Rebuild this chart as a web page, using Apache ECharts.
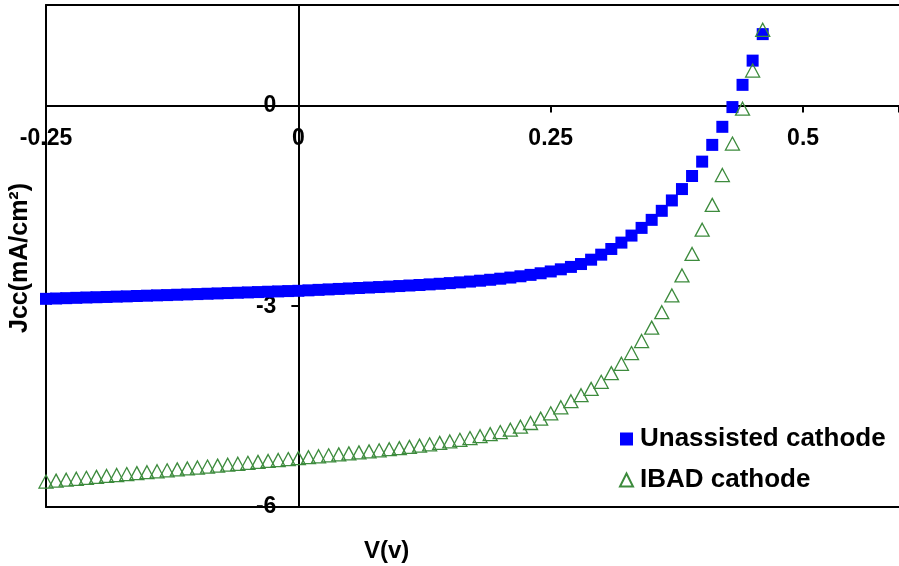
<!DOCTYPE html>
<html>
<head>
<meta charset="utf-8">
<script src="https://cdn.jsdelivr.net/npm/echarts@6/dist/echarts.min.js"></script>
<style>
  html, body { margin: 0; padding: 0; background: #fff; }
  #chart { width: 899px; height: 566px; }
</style>
</head>
<body>
<div id="chart"></div>
<script>
// voltage steps (V), one point every 0.01 V
const voltage = [
  -0.25, -0.24, -0.23, -0.22, -0.21, -0.20, -0.19, -0.18, -0.17, -0.16,
  -0.15, -0.14, -0.13, -0.12, -0.11, -0.10, -0.09, -0.08, -0.07, -0.06,
  -0.05, -0.04, -0.03, -0.02, -0.01, 0.00, 0.01, 0.02, 0.03, 0.04,
  0.05, 0.06, 0.07, 0.08, 0.09, 0.10, 0.11, 0.12, 0.13, 0.14,
  0.15, 0.16, 0.17, 0.18, 0.19, 0.20, 0.21, 0.22, 0.23, 0.24,
  0.25, 0.26, 0.27, 0.28, 0.29, 0.30, 0.31, 0.32, 0.33, 0.34,
  0.35, 0.36, 0.37, 0.38, 0.39, 0.40, 0.41, 0.42, 0.43, 0.44,
  0.45, 0.46
];
// Jcc (mA/cm2), unassisted cathode
const unassisted = [
  -2.890, -2.885, -2.880, -2.875, -2.870, -2.866, -2.862, -2.857, -2.853, -2.848,
  -2.843, -2.838, -2.834, -2.829, -2.824, -2.819, -2.814, -2.809, -2.804, -2.799,
  -2.794, -2.789, -2.784, -2.779, -2.774, -2.770, -2.763, -2.756, -2.749, -2.742,
  -2.735, -2.728, -2.721, -2.714, -2.707, -2.699, -2.691, -2.683, -2.674, -2.665,
  -2.655, -2.644, -2.632, -2.619, -2.605, -2.589, -2.572, -2.553, -2.532, -2.508,
  -2.481, -2.449, -2.413, -2.370, -2.305, -2.230, -2.145, -2.050, -1.945, -1.830,
  -1.710, -1.575, -1.420, -1.250, -1.055, -0.840, -0.590, -0.320, -0.025, 0.307,
  0.669, 1.065
];
// Jcc (mA/cm2), IBAD cathode
const ibad = [
  -5.620, -5.606, -5.592, -5.578, -5.564, -5.550, -5.536, -5.522, -5.508, -5.494,
  -5.480, -5.466, -5.452, -5.438, -5.424, -5.410, -5.396, -5.382, -5.368, -5.354,
  -5.340, -5.326, -5.312, -5.298, -5.284, -5.270, -5.256, -5.242, -5.228, -5.214,
  -5.199, -5.184, -5.169, -5.153, -5.137, -5.120, -5.102, -5.083, -5.063, -5.042,
  -5.020, -4.996, -4.970, -4.942, -4.911, -4.880, -4.845, -4.800, -4.745, -4.680,
  -4.600, -4.510, -4.420, -4.330, -4.235, -4.130, -4.000, -3.860, -3.700, -3.520,
  -3.320, -3.090, -2.840, -2.540, -2.220, -1.857, -1.486, -1.040, -0.570, -0.050,
  0.520, 1.130
];
const xTicks = [-0.25, 0, 0.25, 0.5];
const yTicks = [-6, -3, 0];

const FONT = "'Liberation Sans', Arial, sans-serif";
const X_MIN = -0.25, X_MAX = 0.595;
const Y_MIN = -6, Y_MAX = 1.5;
const GRID = { left: 46, right: 0, top: 5, bottom: 59 };
const W = 899, H = 566;

function pairs(xs, ys) {
  return xs.map((x, i) => [x, ys[i]]);
}

// pixel distance from the grid edge to the value 0 (the axes cross at the origin)
const plotW = W - GRID.left - GRID.right;
const plotH = H - GRID.top - GRID.bottom;
const yZeroOffset = (0 - Y_MIN) / (Y_MAX - Y_MIN) * plotH;
const xZeroOffset = (0 - X_MIN) / (X_MAX - X_MIN) * plotW;

const lineStyle = { color: "#000", width: 2 };
const labelBase = {
  color: "#000",
  fontSize: 23,
  fontWeight: "bold",
  fontFamily: FONT,
};

// plain frame axes: only the line is shown
function frameAxis(position, min, max) {
  return {
    type: "value",
    position: position,
    min: min,
    max: max,
    axisLine: { show: true, onZero: false, lineStyle: lineStyle },
    axisTick: { show: false },
    axisLabel: { show: false },
    splitLine: { show: false },
  };
}

const chart = echarts.init(document.getElementById("chart"));
const option = {
  animation: false,
  backgroundColor: "#fff",
  textStyle: { fontFamily: FONT },
  grid: Object.assign({ show: false, containLabel: false, outerBoundsMode: "none" }, GRID),
  xAxis: [
    {
      type: "value",
      position: "bottom",
      offset: -yZeroOffset,
      min: X_MIN,
      max: X_MAX,
      interval: 0.25,
      splitLine: { show: false },
      axisLine: { onZero: false, lineStyle: lineStyle },
      axisTick: { inside: false, length: 7, lineStyle: lineStyle },
      axisLabel: Object.assign({}, labelBase, {
        margin: 22,
        formatter: (v) => {
          const hit = xTicks.find((t) => Math.abs(t - v) < 1e-6);
          return hit === undefined ? "" : String(hit);
        },
      }),
    },
    frameAxis("top", X_MIN, X_MAX),
    frameAxis("bottom", X_MIN, X_MAX),
  ],
  yAxis: [
    {
      type: "value",
      position: "left",
      offset: -xZeroOffset,
      min: Y_MIN,
      max: Y_MAX,
      interval: 3,
      splitLine: { show: false },
      axisLine: { onZero: false, lineStyle: lineStyle },
      axisTick: { inside: false, length: 7, lineStyle: lineStyle },
      axisLabel: Object.assign({}, labelBase, {
        margin: 22,
        formatter: (v) => (yTicks.includes(v) ? String(v) : ""),
      }),
    },
    frameAxis("left", Y_MIN, Y_MAX),
  ],
  legend: {
    orient: "vertical",
    left: 614,
    top: 421,
    itemGap: 15,
    itemWidth: 13,
    itemHeight: 13,
    textStyle: {
      fontSize: 26,
      fontWeight: "bold",
      color: "#000",
      fontFamily: FONT,
      padding: [0, 0, 0, 2],
    },
    data: [
      { name: "Unassisted cathode", icon: "rect" },
      { name: "IBAD cathode", icon: "triangle" },
    ],
  },
  graphic: [
    {
      type: "text",
      left: 364,
      top: 539,
      style: { text: "V(v)", fontSize: 24, fontWeight: "bold", fill: "#000", fontFamily: FONT },
    },
    {
      type: "text",
      x: 20,
      y: 258,
      rotation: Math.PI / 2,
      style: {
        text: "Jcc(mA/cm²)",
        fontSize: 25,
        fontWeight: "bold",
        fill: "#000",
        fontFamily: FONT,
        align: "center",
        verticalAlign: "middle",
      },
    },
  ],
  series: [
    {
      name: "Unassisted cathode",
      type: "scatter",
      symbol: "rect",
      symbolSize: 12,
      itemStyle: { color: "#0000ff", opacity: 1 },
      data: pairs(voltage, unassisted),
    },
    {
      name: "IBAD cathode",
      type: "scatter",
      symbol: "triangle",
      symbolSize: [14, 13],
      itemStyle: { color: "transparent", borderColor: "#3d8b3d", borderWidth: 1.3, opacity: 1 },
      data: pairs(voltage, ibad),
    },
  ],
};
chart.setOption(option);
</script>
</body>
</html>
